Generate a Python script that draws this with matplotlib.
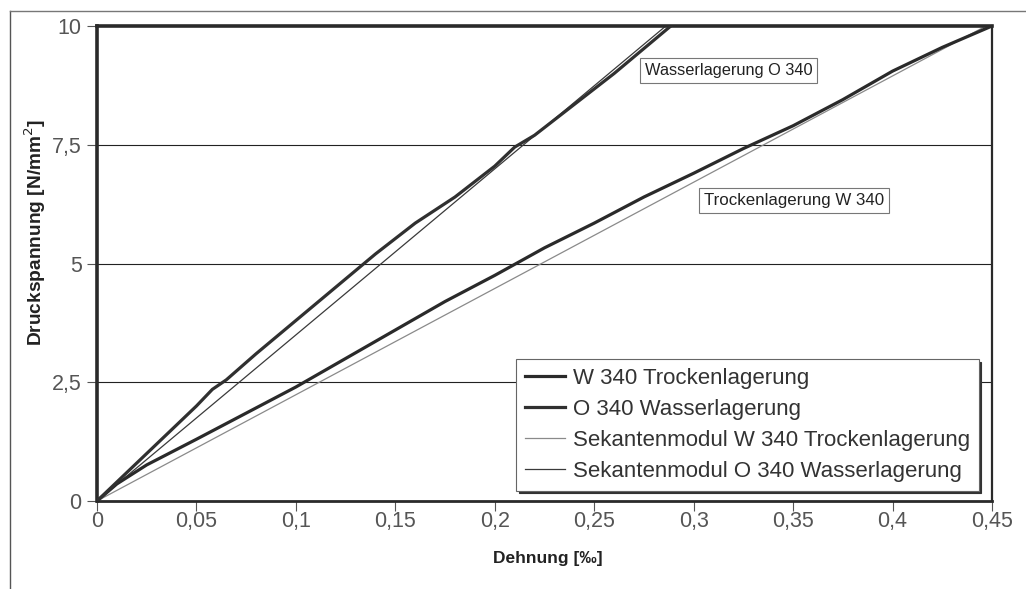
import matplotlib

matplotlib.use("Agg")
import matplotlib.pyplot as plt
from matplotlib.lines import Line2D

plt.rcParams["font.family"] = ["Liberation Sans", "DejaVu Sans"]

# Dehnung [‰] / Druckspannung [N/mm²]
W340_X = [0, 0.01, 0.025, 0.05, 0.075, 0.1, 0.125, 0.15, 0.175, 0.2,
          0.225, 0.25, 0.275, 0.3, 0.325, 0.35, 0.375, 0.4, 0.425, 0.45]
W340_Y = [0, 0.36, 0.76, 1.3, 1.85, 2.4, 3.0, 3.6, 4.2, 4.75,
          5.33, 5.85, 6.4, 6.9, 7.42, 7.9, 8.45, 9.05, 9.55, 10.0]

O340_X = [0, 0.01, 0.02, 0.03, 0.04, 0.05, 0.058, 0.065, 0.08, 0.1,
          0.12, 0.14, 0.16, 0.18, 0.2, 0.21, 0.22, 0.24, 0.26, 0.2885]
O340_Y = [0, 0.4, 0.8, 1.2, 1.6, 2.0, 2.35, 2.55, 3.1, 3.8,
          4.5, 5.2, 5.85, 6.4, 7.05, 7.45, 7.7, 8.35, 9.0, 10.0]

SEK_W_X = [0, 0.447]
SEK_W_Y = [0, 10]
SEK_O_X = [0, 0.286]
SEK_O_Y = [0, 10]

X_TICKS = [0, 0.05, 0.1, 0.15, 0.2, 0.25, 0.3, 0.35, 0.4, 0.45]
X_TICK_LABELS = ["0", "0,05", "0,1", "0,15", "0,2", "0,25", "0,3", "0,35", "0,4", "0,45"]
Y_TICKS = [0, 2.5, 5, 7.5, 10]
Y_TICK_LABELS = ["0", "2,5", "5", "7,5", "10"]

fig = plt.figure(figsize=(10.26, 5.89), dpi=100)
ax = fig.add_axes([97 / 1026, 1 - 501 / 589, (992 - 97) / 1026, (501 - 26) / 589])

# outer frame of the scanned figure (left and top only)
fig.add_artist(Line2D([10 / 1026, 10 / 1026], [0, 1 - 11 / 589], transform=fig.transFigure,
                      color="#555555", linewidth=1.0))
fig.add_artist(Line2D([10 / 1026, 1], [1 - 11 / 589, 1 - 11 / 589], transform=fig.transFigure,
                      color="#777777", linewidth=1.0))

for y in Y_TICKS[1:-1]:
    ax.axhline(y, color="#222222", linewidth=0.8, zorder=1)

ax.plot(SEK_W_X, SEK_W_Y, color="#8a8a8a", linewidth=0.9, zorder=2,
        label="Sekantenmodul W 340 Trockenlagerung")
ax.plot(SEK_O_X, SEK_O_Y, color="#3a3a3a", linewidth=0.9, zorder=2,
        label="Sekantenmodul O 340 Wasserlagerung")
ax.plot(W340_X, W340_Y, color="#2a2a2a", linewidth=2.3, zorder=3,
        label="W 340 Trockenlagerung")
ax.plot(O340_X, O340_Y, color="#303030", linewidth=2.3, zorder=3,
        label="O 340 Wasserlagerung")

ax.set_xlim(0, 0.45)
ax.set_ylim(0, 10)
ax.set_xticks(X_TICKS)
ax.set_xticklabels(X_TICK_LABELS)
ax.set_yticks(Y_TICKS)
ax.set_yticklabels(Y_TICK_LABELS)
ax.tick_params(direction="out", length=7, width=0.8, color="#555555",
               labelsize=15.5, labelcolor="#555555")
ax.tick_params(axis="x", pad=0)
ax.tick_params(axis="y", pad=4)

for side in ["left", "bottom", "top", "right"]:
    ax.spines[side].set_color("#2a2a2a")
ax.spines["left"].set_linewidth(2.6)
ax.spines["top"].set_linewidth(2.6)
ax.spines["bottom"].set_linewidth(2.0)
ax.spines["right"].set_linewidth(1.6)

ax.set_xlabel("Dehnung [‰]", fontsize=12.5, fontweight="bold", color="#222222")
ax.xaxis.set_label_coords(0.504, -0.106)
ax.set_ylabel("Druckspannung [N/mm$^2$]", fontsize=13.8, fontweight="bold", color="#222222")
ax.yaxis.set_label_coords(-0.055, 0.566)

box = dict(boxstyle="square,pad=0.3", facecolor="white", edgecolor="#777777", linewidth=0.8)
ax.text(0.3175, 9.07, "Wasserlagerung O 340", fontsize=11.8, color="#222222",
        ha="center", va="center", bbox=box, zorder=4)
ax.text(0.3505, 6.32, "Trockenlagerung W 340", fontsize=12.2, color="#222222",
        ha="center", va="center", bbox=box, zorder=4)

handles, labels = ax.get_legend_handles_labels()
order = [2, 3, 0, 1]
leg = ax.legend([handles[i] for i in order], [labels[i] for i in order],
                loc="lower right", bbox_to_anchor=(0.985, 0.022), fontsize=16,
                frameon=True, fancybox=False, handlelength=1.8, handletextpad=0.35,
                labelspacing=0.45, borderpad=0.4, borderaxespad=0,
                shadow={"color": "#333333", "alpha": 1.0})
leg.get_frame().set_edgecolor("#666666")
leg.get_frame().set_linewidth(0.8)
for t in leg.get_texts():
    t.set_color("#333333")

fig.savefig("out.png", dpi=100)
